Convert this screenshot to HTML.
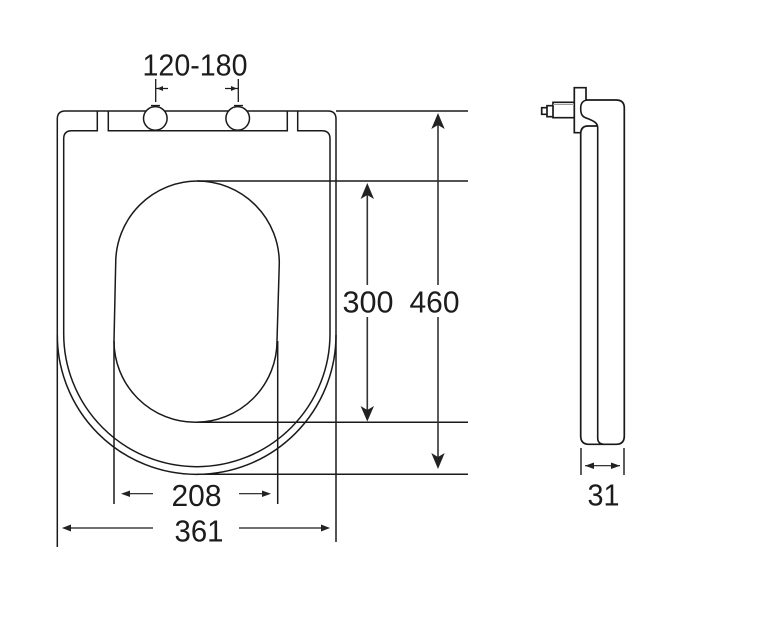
<!DOCTYPE html>
<html><head><meta charset="utf-8"><style>
html,body{margin:0;padding:0;background:#fff;width:781px;height:630px;overflow:hidden}
svg{display:block}
text{font-family:"Liberation Sans",sans-serif;fill:#1c1c1c;font-size:31px}
</style></head><body>
<svg width="781" height="630" viewBox="0 0 781 630" xmlns="http://www.w3.org/2000/svg">
<rect width="781" height="630" fill="#fff"/>
<g fill="none" stroke="#1a1a1a" stroke-width="1.5">
<!-- outer seat -->
<path d="M57.3 335V119Q57.3 111 65.3 111H328Q336 111 336 119V335A139.35 139.35 0 0 1 57.3 335Z"/>
<!-- inner seat with slots -->
<path d="M97.3 111V130.7H71.7Q63.7 130.7 63.7 138.7V333.7A133.15 133 0 0 0 330 333.7V138.7Q330 130.7 322 130.7H297.7V111"/>
<path d="M108.3 111V130.7H287.3V111"/>
<!-- hinge circles -->
<circle cx="155.3" cy="118.4" r="11.8" fill="#fff"/>
<circle cx="237.7" cy="118.4" r="11.8" fill="#fff"/>
<!-- hole -->
<path d="M115.7 263A81.8 82 0 0 1 279.3 263L277 341A81.5 81.3 0 0 1 114 341Z"/>
<!-- extension lines -->
<path d="M336 111H468M197 181H468M197 422.3H468M197 474.3H468"/>
<path d="M114 341V504M277.7 341V504M57.3 335V547M336 335V542"/>
<path d="M155.7 79V102M238.3 79V102M151 105.5H160M234 105.5H243" stroke-width="1.3"/>
<!-- dimension lines -->
<path d="M367.3 190V285M367.3 317V414M438 120V285M438 317V460" stroke="#333" stroke-width="1.6"/>
<path d="M126 493.7H153M239 493.7H266M66 528H153M239 528H326M155.7 88.5H168M225 88.5H238.3M585 465.7H620" stroke-width="1.2"/>
<!-- side view -->
<path d="M586 100V87.7H574.3V132.7H580.7" stroke-width="1.7"/>
<path d="M586 100H616Q624.3 100 624.3 108V436Q624.3 444.3 616 444.3H589Q580.7 444.3 580.7 436V134Q580.7 126 588 126H597.7" stroke-width="1.7"/>
<path d="M587 100Q580.7 101 580.7 108Q580.5 115 584 117C590 120 597 121 597.7 127V438Q597.7 444 604 444.3" stroke-width="1.6"/>
<path d="M574.3 102.3H553V117.7H574.3M553 105.7H547V116.7H553M547 107.7H541.7V114.3H547" stroke-width="1.7"/>
<path d="M553 104.5H574" stroke="#999" stroke-width="1"/>
<path d="M581 448V475M624 448V475" stroke-width="1.4"/>
</g>
<!-- arrowheads -->
<g fill="#222">
<path d="M367.3 183L374 199L367.3 195L360.6 199Z"/>
<path d="M367.3 421.5L374 406L367.3 410L360.6 406Z"/>
<path d="M438 113L444.7 129L438 125L431.3 129Z"/>
<path d="M438 469L444.7 453L438 457L431.3 453Z"/>
<path d="M121 493.7L130 490.5V497Z"/>
<path d="M271 493.7L262 490.5V497Z"/>
<path d="M62 528L71 524.5V531.5Z"/>
<path d="M330 528L321 524.5V531.5Z"/>
<path d="M157 88.5L163 86V91Z"/>
<path d="M237 88.5L231 86V91Z"/>
<path d="M585 465.7L594 462.5V469Z"/>
<path d="M620 465.7L611 462.5V469Z"/>
</g>
<!-- labels -->
<text x="142.5" y="75.5" textLength="105" lengthAdjust="spacingAndGlyphs">120-180</text>
<text x="342.5" y="312.5" textLength="51" lengthAdjust="spacingAndGlyphs">300</text>
<text x="409.5" y="312.5" textLength="50" lengthAdjust="spacingAndGlyphs">460</text>
<text x="171.5" y="506" textLength="50" lengthAdjust="spacingAndGlyphs">208</text>
<text x="174.5" y="541.5" textLength="49" lengthAdjust="spacingAndGlyphs">361</text>
<text x="587.5" y="505.5" textLength="32" lengthAdjust="spacingAndGlyphs">31</text>
</svg>
</body></html>
